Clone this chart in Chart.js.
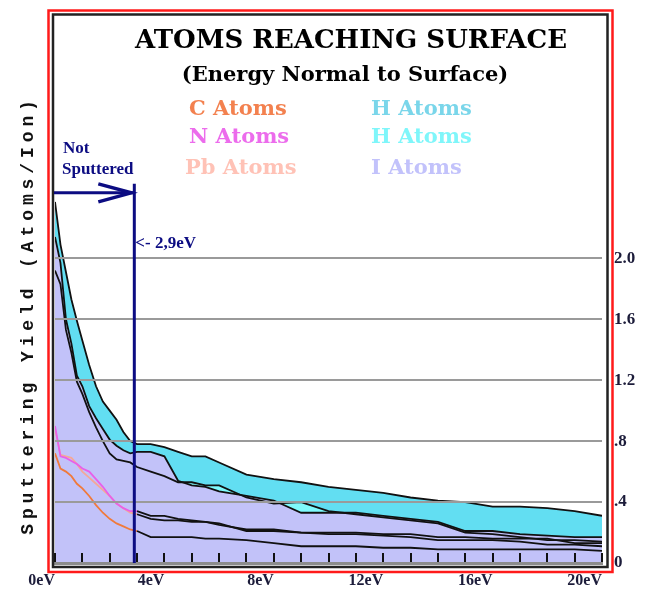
<!DOCTYPE html>
<html>
<head>
<meta charset="utf-8">
<script src="https://cdn.jsdelivr.net/npm/chart.js@4.4.0/dist/chart.umd.min.js"></script>
<style>
  html, body { margin: 0; padding: 0; background: #fff; }
  canvas { display: block; }
</style>
</head>
<body>
<canvas id="chart" width="646" height="597"></canvas>
<script>
// Energy normal to the surface (eV)
const energy = [0, 0.2, 0.4, 0.6, 0.8, 1, 1.25, 1.5, 1.75, 2, 2.25, 2.5, 2.75, 3,
                3.5, 4, 4.5, 5, 5.5, 6, 7, 8, 9, 10, 11, 12, 13, 14, 15, 16, 17, 18, 19, 20];

// Sputtering yield (atoms / ion) per species
const cAtoms  = [0.72, 0.62, 0.60, 0.57, 0.52, 0.49, 0.44, 0.38, 0.33, 0.29, 0.26, 0.24, 0.22, 0.21,
                 0.17, 0.17, 0.17, 0.17, 0.16, 0.16, 0.15, 0.13, 0.11, 0.11, 0.11, 0.10, 0.10, 0.09,
                 0.09, 0.09, 0.09, 0.09, 0.09, 0.08];
const nAtoms  = [0.90, 0.70, 0.69, 0.67, 0.65, 0.62, 0.60, 0.55, 0.50, 0.44, 0.39, 0.36, 0.34, 0.34,
                 0.31, 0.31, 0.29, 0.28, 0.27, 0.26, 0.21, 0.21, 0.20, 0.20, 0.20, 0.19, 0.19, 0.17,
                 0.17, 0.16, 0.16, 0.16, 0.13, 0.13];
const pbAtoms = [0.88, 0.71, 0.70, 0.69, 0.65, 0.60, 0.56, 0.52, 0.48, 0.44, 0.39, 0.36, 0.33, 0.32,
                 0.29, 0.28, 0.28, 0.27, 0.27, 0.25, 0.22, 0.22, 0.20, 0.19, 0.19, 0.18, 0.17, 0.15,
                 0.15, 0.15, 0.14, 0.12, 0.12, 0.11];
const iAtoms  = [2.14, 1.97, 1.60, 1.44, 1.23, 1.16, 1.03, 0.95, 0.88, 0.81, 0.77, 0.74, 0.72, 0.73,
                 0.73, 0.70, 0.54, 0.51, 0.50, 0.47, 0.44, 0.41, 0.33, 0.33, 0.33, 0.31, 0.29, 0.27,
                 0.21, 0.21, 0.19, 0.18, 0.17, 0.17];
const hAtomsB = [1.92, 1.83, 1.53, 1.38, 1.19, 1.11, 0.99, 0.89, 0.80, 0.72, 0.68, 0.67, 0.66, 0.63,
                 0.60, 0.57, 0.53, 0.53, 0.51, 0.51, 0.43, 0.39, 0.40, 0.34, 0.32, 0.30, 0.28, 0.26,
                 0.20, 0.19, 0.17, 0.15, 0.15, 0.14];
const hAtomsA = [2.37, 2.09, 1.91, 1.73, 1.59, 1.46, 1.30, 1.16, 1.06, 1.00, 0.94, 0.86, 0.80, 0.78,
                 0.78, 0.76, 0.73, 0.70, 0.70, 0.66, 0.58, 0.55, 0.53, 0.50, 0.48, 0.46, 0.43, 0.41,
                 0.40, 0.37, 0.37, 0.36, 0.34, 0.31];

// Legend entries, laid out in two columns of three
const legendLabels = ['C Atoms', 'N Atoms', 'Pb Atoms', 'H Atoms', 'H Atoms', 'I Atoms'];
const legendColors = ['#f3814f', '#ec6cec', '#ffc2b6', '#7ad6ea', '#7ff6fa', '#c2c2fb'];

// Axis ticks
const yTicks = [0, 0.4, 0.8, 1.2, 1.6, 2.0];
const yTickLabels = ['0', '.4', '.8', '1.2', '1.6', '2.0'];
const xLabelStep = 4;

// Energy below which atoms are not sputtered
const threshold = 2.9;

const NAVY = '#0c0c82';
const LINE = '#111111';

const pts = arr => energy.map((x, i) => ({ x, y: arr[i] }));
const steepColor = col => ctx => (ctx.p0.parsed.x < 3 ? col : LINE);

const datasets = [
  { label: 'C Atoms',  data: pts(cAtoms),  borderColor: LINE, fill: false,
    segment: { borderColor: steepColor('#f07a3c') } },
  { label: 'N Atoms',  data: pts(nAtoms),  borderColor: LINE, fill: false,
    segment: { borderColor: steepColor('#e860e8') } },
  { label: 'Pb Atoms', data: pts(pbAtoms), borderColor: LINE, fill: false,
    segment: { borderColor: steepColor('#f4a898') } },
  { label: 'I Atoms',  data: pts(iAtoms),  borderColor: LINE, fill: 'origin', backgroundColor: '#c2c2f9' },
  { label: 'H Atoms',  data: pts(hAtomsB), borderColor: LINE, fill: 'origin', backgroundColor: '#7ffafc' },
  { label: 'H Atoms',  data: pts(hAtomsA), borderColor: LINE, fill: 'origin', backgroundColor: '#62def2' }
];

const serifBold = (size) => 'bold ' + size + 'px "Liberation Serif", "Times New Roman", serif';
const wideSerifBold = (size) => 'bold ' + size + 'px "DejaVu Serif", serif';

const decor = {
  id: 'decor',
  afterDraw(chart) {
    const { ctx, chartArea: ca, scales } = chart;
    ctx.save();

    // double frame
    ctx.strokeStyle = '#ff1a1a';
    ctx.lineWidth = 2.5;
    ctx.strokeRect(48.5, 10.5, 564, 561.5);
    ctx.strokeStyle = '#222';
    ctx.lineWidth = 2.5;
    ctx.strokeRect(53, 14.5, 554.5, 552.5);

    // titles
    ctx.fillStyle = '#000';
    ctx.textAlign = 'center';
    ctx.textBaseline = 'alphabetic';
    ctx.font = wideSerifBold(26);
    ctx.fillText('ATOMS REACHING SURFACE', 351, 48);
    ctx.font = wideSerifBold(21);
    ctx.fillText('(Energy Normal to Surface)', 345, 81);

    // legend
    ctx.textAlign = 'left';
    ctx.font = wideSerifBold(21);
    const colX = [189, 371];
    const rowY = [115, 143, 174];
    legendLabels.forEach((t, i) => {
      ctx.fillStyle = legendColors[i];
      ctx.fillText(t, colX[Math.floor(i / 3)] - (i === 2 ? 4 : 0), rowY[i % 3]);
    });

    // y axis title
    ctx.save();
    ctx.translate(33, 315);
    ctx.rotate(-Math.PI / 2);
    ctx.fillStyle = '#111';
    ctx.font = 'bold 18px "Liberation Mono", "DejaVu Sans Mono", monospace';
    ctx.letterSpacing = '4.9px';
    ctx.textAlign = 'center';
    ctx.fillText('Sputtering Yield (Atoms/Ion)', 0, 0);
    ctx.restore();

    // threshold marker
    const vx = scales.x.getPixelForValue(threshold);
    const ay = scales.y.getPixelForValue(2.43);
    ctx.strokeStyle = NAVY;
    ctx.lineWidth = 3;
    ctx.beginPath();
    ctx.moveTo(vx, scales.y.getPixelForValue(2.49));
    ctx.lineTo(vx, ca.bottom);
    ctx.stroke();
    ctx.beginPath();
    ctx.moveTo(ca.left - 1, ay);
    ctx.lineTo(vx, ay);
    ctx.stroke();
    ctx.lineWidth = 3.5;
    ctx.beginPath();
    ctx.moveTo(vx - 36, ay - 9);
    ctx.lineTo(vx - 3, ay);
    ctx.lineTo(vx - 36, ay + 9);
    ctx.stroke();

    ctx.fillStyle = NAVY;
    ctx.font = serifBold(17);
    ctx.textAlign = 'left';
    ctx.fillText('Not', 63, 153);
    ctx.fillText('Sputtered', 62, 174);
    ctx.fillText('<- 2,9eV', vx + 1, 248);

    ctx.restore();
  }
};

new Chart(document.getElementById('chart'), {
  type: 'line',
  data: { datasets },
  options: {
    responsive: false,
    animation: false,
    layout: { padding: { left: 55, right: 10, top: 14, bottom: 7 } },
    elements: {
      point: { radius: 0 },
      line: { borderWidth: 1.8, tension: 0 }
    },
    plugins: {
      legend: { display: false },
      tooltip: { enabled: false },
      filler: { drawTime: 'beforeDatasetsDraw' }
    },
    scales: {
      x: {
        type: 'linear', min: 0, max: 20,
        afterFit: s => { s.height = 27; },
        ticks: {
          stepSize: 1, autoSkip: false, maxRotation: 0, align: 'end', padding: 18,
          color: '#1c1c3a', font: { family: '"Liberation Serif", serif', size: 16, weight: 'bold' },
          callback: v => (v % xLabelStep === 0 ? v + 'eV' : '')
        },
        grid: { z: 1, drawOnChartArea: false, drawTicks: true, tickLength: -10, color: '#111', lineWidth: 2 },
        border: { z: 1, display: true, color: '#8c8c8c', width: 3 }
      },
      y: {
        type: 'linear', position: 'right', min: 0, max: 3.55,
        afterFit: s => { s.width = 34; },
        afterBuildTicks: s => { s.ticks = yTicks.map(v => ({ value: v })); },
        ticks: {
          padding: 12, color: '#1c1c3a',
          font: { family: '"Liberation Serif", serif', size: 17, weight: 'bold' },
          callback: (v, i) => yTickLabels[i]
        },
        grid: {
          z: 1, drawTicks: false, lineWidth: 2,
          color: c => (c.tick && c.tick.value === 0 ? 'rgba(0,0,0,0)' : '#9a9a9a')
        },
        border: { display: false }
      }
    }
  },
  plugins: [decor]
});
</script>
</body>
</html>
